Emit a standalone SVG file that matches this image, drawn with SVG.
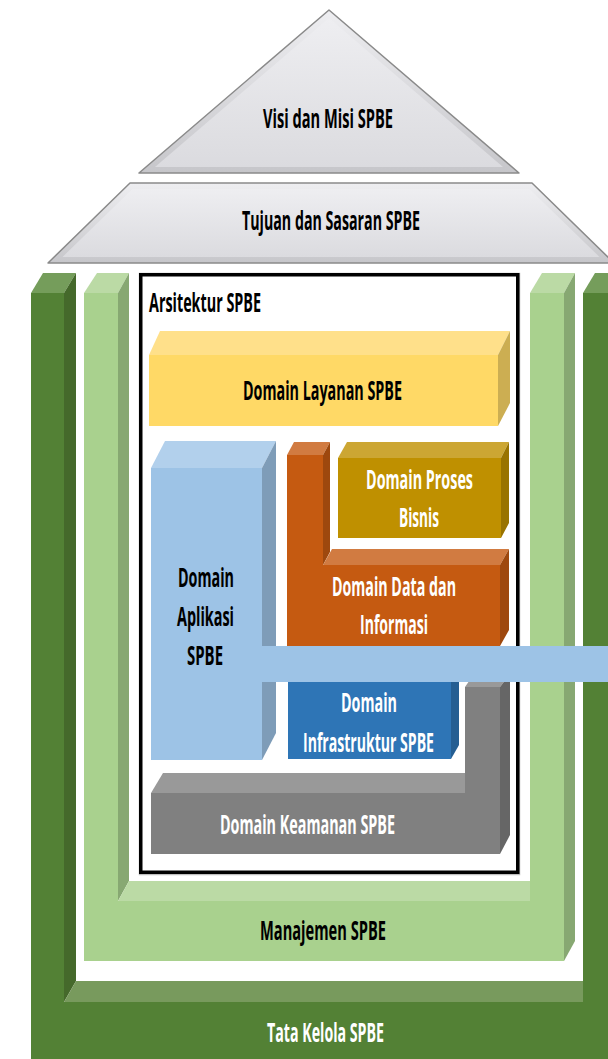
<svg xmlns="http://www.w3.org/2000/svg" width="608" height="1059" viewBox="0 0 608 1059">
<defs>
<linearGradient id="gOut" x1="0" y1="0" x2="0" y2="1">
<stop offset="0" stop-color="#EEEEF1"/><stop offset="1" stop-color="#C6C6CA"/>
</linearGradient>
<linearGradient id="gIn" x1="0" y1="0" x2="0" y2="1">
<stop offset="0" stop-color="#EEEEF1"/><stop offset="1" stop-color="#DBDBDF"/>
</linearGradient>
<style>
.t{font-family:"Open Sans","Liberation Sans",sans-serif;font-weight:700;font-size:27px}
.k{fill:#000}
.w{fill:#FFFFFF}
.edge{stroke:#8A8A8A;stroke-width:1.5;stroke-linejoin:round}
</style>
</defs>
<rect width="608" height="1059" fill="#FFFFFF"/>

<g id="visi-misi">
<polygon class="edge" points="329,10 139,173 519,173" fill="url(#gOut)"/>
<polygon points="329,18 155,167 503,167" fill="url(#gIn)"/>
<text class="t k" x="263" y="128" font-size="25" textLength="130" lengthAdjust="spacingAndGlyphs">Visi dan Misi SPBE</text>
</g>

<g id="tujuan-sasaran">
<polygon class="edge" points="130,183 532,183 614,263 48,263" fill="url(#gOut)"/>
<polygon points="132.5,189 529.5,189 599.5,257 62.5,257" fill="url(#gIn)"/>
<text class="t k" x="242" y="230" textLength="178" lengthAdjust="spacingAndGlyphs">Tujuan dan Sasaran SPBE</text>
</g>

<g id="tata-kelola">
<polygon points="31,293 64,293 64,1002 583,1002 583,293 608,293 608,1059 31,1059" fill="#538135"/>
<polygon points="31,293 43,273 76,273 64,293" fill="#759D5B"/>
<polygon points="64,293 76,273 76,981 64,1002" fill="#45692B"/>
<polygon points="64,1002 76,981 583,981 583,1002" fill="#789A5D"/>
<polygon points="583,293 595,273 608,273 608,293" fill="#759D5B"/>
<text class="t w" x="267" y="1042" textLength="117" lengthAdjust="spacingAndGlyphs">Tata Kelola SPBE</text>
</g>

<g id="manajemen">
<polygon points="84,293 118,293 118,901 530,901 530,293 564,293 564,961 84,961" fill="#A9D18E"/>
<polygon points="84,293 97,273 129,273 118,293" fill="#BBDAA5"/>
<polygon points="118,293 129,273 129,881 118,901" fill="#87A872"/>
<polygon points="118,901 129,881 530,881 530,901" fill="#BBDAA5"/>
<polygon points="530,293 542,273 575,273 564,293" fill="#BBDAA5"/>
<polygon points="564,293 575,273 575,941 564,961" fill="#87A872"/>
<text class="t k" x="260" y="940" textLength="126" lengthAdjust="spacingAndGlyphs">Manajemen SPBE</text>
</g>

<g id="arsitektur">
<rect x="139.5" y="273.5" width="380" height="601" fill="none" stroke="#BFBFBF" stroke-width="1.5"/>
<rect x="140.75" y="274.75" width="377" height="597.5" fill="#FFFFFF" stroke="#000000" stroke-width="3.5"/>
<text class="t k" x="149" y="312" textLength="112" lengthAdjust="spacingAndGlyphs">Arsitektur SPBE</text>
</g>

<g id="layanan">
<polygon points="149,355 498,355 498,426 149,426" fill="#FFD966"/>
<polygon points="149,355 160,331 510,331 498,355" fill="#FFE08A"/>
<polygon points="498,355 510,331 510,403 498,426" fill="#CCAE52"/>
<text class="t k" x="243" y="400" textLength="159" lengthAdjust="spacingAndGlyphs">Domain Layanan SPBE</text>
</g>

<g id="aplikasi">
<polygon points="151,468 262,468 262,760 151,760" fill="#9DC3E6"/>
<polygon points="151,468 165,441 276,441 262,468" fill="#B2D0EC"/>
<polygon points="262,468 276,441 276,733 262,760" fill="#7E9CB8"/>
<text class="t k" x="178" y="587" textLength="56" lengthAdjust="spacingAndGlyphs">Domain</text>
<text class="t k" x="177" y="626" textLength="57" lengthAdjust="spacingAndGlyphs">Aplikasi</text>
<text class="t k" x="187" y="665" textLength="36" lengthAdjust="spacingAndGlyphs">SPBE</text>
</g>

<g id="proses-bisnis">
<polygon points="338,458 501,458 501,538 338,538" fill="#BF9000"/>
<polygon points="338,458 347,442 509,442 501,458" fill="#CCA633"/>
<polygon points="501,458 509,442 509,523 501,538" fill="#997300"/>
<text class="t w" x="366" y="489" textLength="107" lengthAdjust="spacingAndGlyphs">Domain Proses</text>
<text class="t w" x="399" y="527" textLength="40" lengthAdjust="spacingAndGlyphs">Bisnis</text>
</g>

<g id="data-informasi">
<polygon points="287,455 323,455 323,565 500,565 500,646 287,646" fill="#C55A11"/>
<polygon points="287,455 294,442 330,442 323,455" fill="#D17B41"/>
<polygon points="323,455 330,442 330,552 323,565" fill="#9E480E"/>
<polygon points="323,565 332,549 509,549 500,565" fill="#D17B41"/>
<polygon points="500,565 509,549 509,630 500,646" fill="#9E480E"/>
<text class="t w" x="332" y="596" textLength="124" lengthAdjust="spacingAndGlyphs">Domain Data dan</text>
<text class="t w" x="360" y="634" textLength="68" lengthAdjust="spacingAndGlyphs">Informasi</text>
</g>

<g id="infrastruktur">
<polygon points="288,660 451,660 451,759 288,759" fill="#2E75B6"/>
<polygon points="451,660 459,660 459,745 451,759" fill="#255E92"/>
<text class="t w" x="341" y="712" textLength="56" lengthAdjust="spacingAndGlyphs">Domain</text>
<text class="t w" x="303" y="752" textLength="131" lengthAdjust="spacingAndGlyphs">Infrastruktur SPBE</text>
</g>

<g id="keamanan">
<polygon points="465,687 500,687 500,854 151,854 151,793 465,793" fill="#808080"/>
<polygon points="465,687 474,674 510,674 500,687" fill="#999999"/>
<polygon points="151,793 163,773 465,773 465,793" fill="#999999"/>
<polygon points="500,687 510,674 510,835 500,854" fill="#666666"/>
<text class="t w" x="220" y="834" textLength="175" lengthAdjust="spacingAndGlyphs">Domain Keamanan SPBE</text>
</g>

<g id="aplikasi-bar">
<rect x="262" y="646" width="346" height="36" fill="#9DC3E6"/>
</g>

<g id="connectors"></g>
</svg>
